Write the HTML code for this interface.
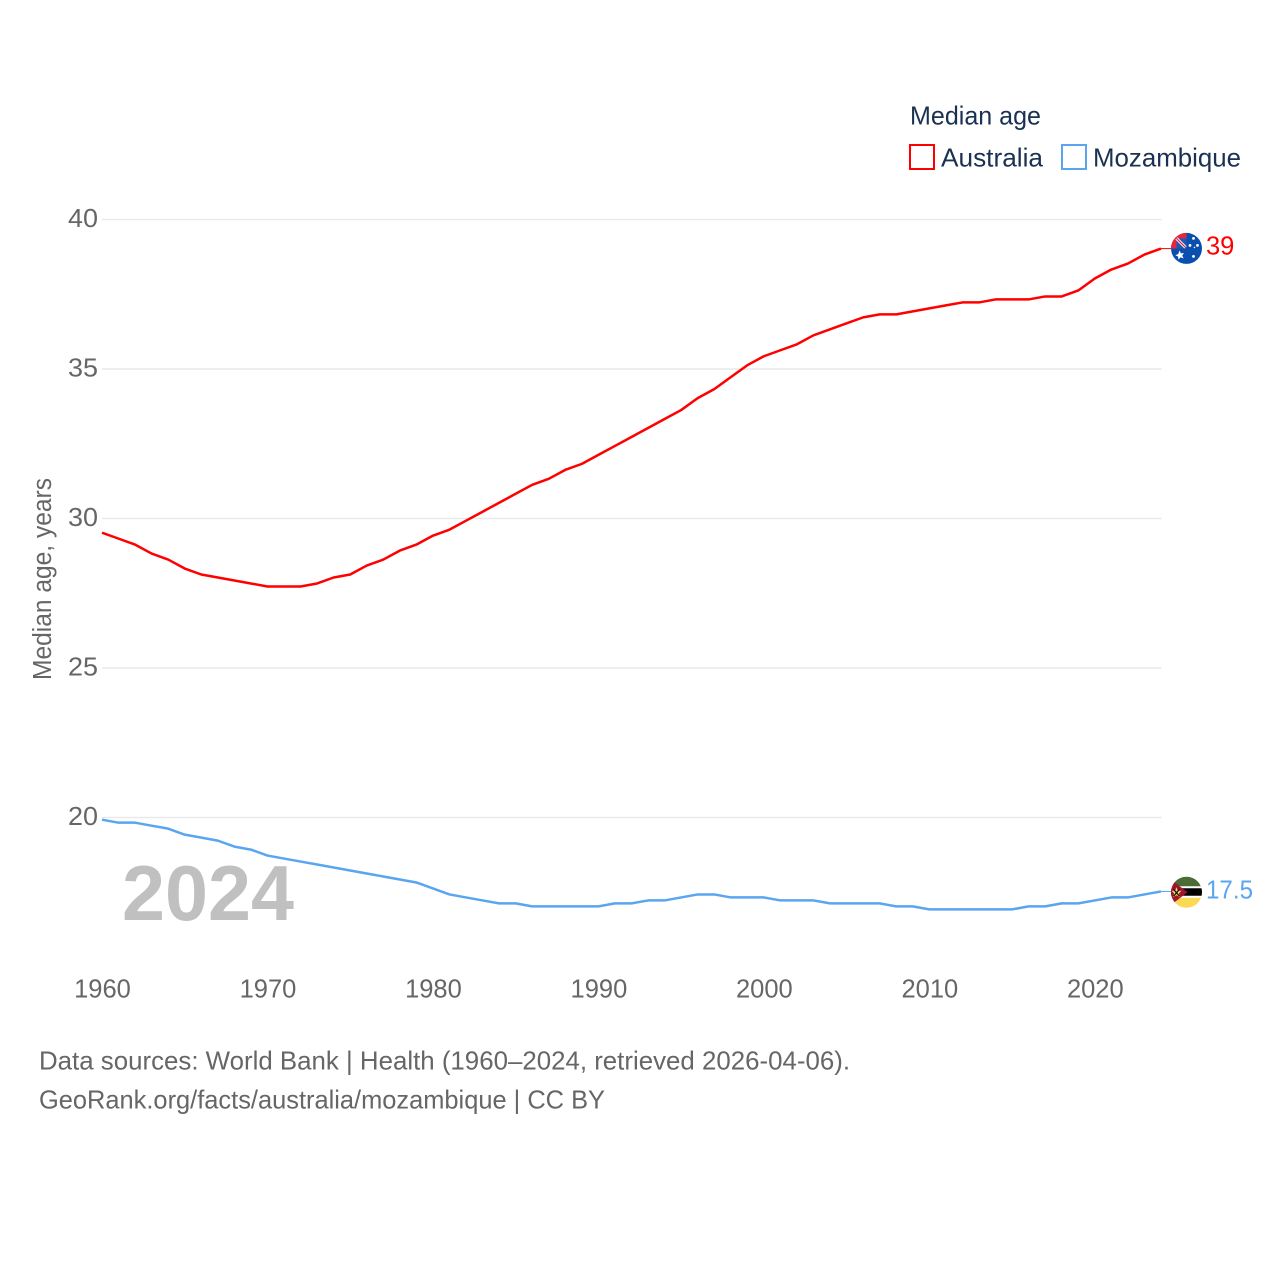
<!DOCTYPE html>
<html lang="en">
<head>
<meta charset="utf-8">
<title>Median age: Australia and Mozambique</title>
<style>
html,body{margin:0;padding:0;background:#fff;}
svg{display:block;font-family:"Liberation Sans",sans-serif;}
.tick{font-size:25.5px;fill:#666;}
.legend{font-size:26px;fill:#1a3152;}
.foot{font-size:26px;fill:#666;}
</style>
</head>
<body>
<svg id="chart" xmlns="http://www.w3.org/2000/svg" width="1280" height="1280" viewBox="0 0 1280 1280">
  <defs>
    <clipPath id="flag-clip"><circle cx="0" cy="0" r="15.5"></circle></clipPath>
  </defs>
  <rect width="1280" height="1280" fill="#fff"></rect>
  <g id="grid"></g>
  <g id="yticks"></g>
  <g id="xticks"></g>
  <text class="tick" font-size="25" transform="translate(51,680) rotate(-90)" textLength="202" lengthAdjust="spacingAndGlyphs">Median age, years</text>
  <text x="122" y="920" font-size="78" font-weight="700" fill="#c0c0c0" textLength="172" lengthAdjust="spacingAndGlyphs">2024</text>
  <g id="series"></g>

  <g id="flag-au">
    <g clip-path="url(#flag-clip)">
      <rect x="-16" y="-16" width="32" height="32" fill="#0a4fae"></rect>
      <rect x="-16" y="-16" width="16" height="16" fill="#e8243f"></rect>
      <rect x="-10" y="-10" width="10" height="10" fill="#1d5ab0"></rect>
      <path d="M-10 -10L-1 -1" stroke="#fff" stroke-width="3"></path>
      <path d="M-10 -10L-1 -1" stroke="#e8243f" stroke-width="1.2"></path>
      <polygon points="-7,2 -5.6,5 -2.5,4.6 -4.3,7.2 -2.8,10 -6,9 -8.2,11.2 -8.3,8.2 -11.2,6.8 -8.2,5.6" fill="#fff"></polygon>
      <circle cx="7" cy="-10" r="1.4" fill="#fff"></circle>
      <circle cx="3.5" cy="-3" r="1.4" fill="#fff"></circle>
      <circle cx="11" cy="-3" r="1.4" fill="#fff"></circle>
      <circle cx="7" cy="8" r="1.4" fill="#fff"></circle>
      <circle cx="8" cy="-1" r="0.8" fill="#fff"></circle>
    </g>
  </g>

  <g id="flag-mz">
    <g clip-path="url(#flag-clip)">
      <rect x="-16" y="-16" width="32" height="32" fill="#fff"></rect>
      <rect x="-16" y="-16" width="32" height="10" fill="#4b6c34"></rect>
      <rect x="-16" y="-4" width="32" height="7.5" fill="#000"></rect>
      <rect x="-16" y="5.5" width="32" height="11" fill="#fcd955"></rect>
      <polygon points="-16,-13 1,0 -16,13" fill="#a3122f"></polygon>
      <polygon points="-10,-5 -8.5,-1.5 -5,-1.5 -7.5,1 -6.5,5 -10,3 -13.5,5 -12.5,1 -15,-1.5 -11.5,-1.5" fill="#f4d85c"></polygon>
      <path d="M-13 -3L-7 4M-7 -3L-13 4" stroke="#111" stroke-width="1.3"></path>
    </g>
  </g>

  <g id="value-labels"></g>

  <g>
    <text class="legend" x="910" y="124.5" textLength="131" lengthAdjust="spacingAndGlyphs">Median age</text>
    <g>
      <rect x="910" y="145" width="24" height="24" fill="#fff" stroke="#ff0000" stroke-width="2"></rect>
      <text class="legend" x="941" y="166.5" textLength="102" lengthAdjust="spacingAndGlyphs">Australia</text>
    </g>
    <g>
      <rect x="1062" y="145" width="24" height="24" fill="#fff" stroke="#5aa5f0" stroke-width="2"></rect>
      <text class="legend" x="1093" y="166.5" textLength="148" lengthAdjust="spacingAndGlyphs">Mozambique</text>
    </g>
  </g>

  <g>
    <text class="foot" x="39" y="1069.5" textLength="811" lengthAdjust="spacingAndGlyphs">Data sources: World Bank | Health (1960–2024, retrieved 2026-04-06).</text>
    <text class="foot" x="39" y="1108.5" textLength="566" lengthAdjust="spacingAndGlyphs">GeoRank.org/facts/australia/mozambique | CC BY</text>
  </g>
</svg>
<script>
const startYear = 1960;
const australiaValues = [29.5,29.3,29.1,28.8,28.6,28.3,28.1,28.0,27.9,27.8,27.7,27.7,27.7,27.8,28.0,28.1,28.4,28.6,28.9,29.1,29.4,29.6,29.9,30.2,30.5,30.8,31.1,31.3,31.6,31.8,32.1,32.4,32.7,33.0,33.3,33.6,34.0,34.3,34.7,35.1,35.4,35.6,35.8,36.1,36.3,36.5,36.7,36.8,36.8,36.9,37.0,37.1,37.2,37.2,37.3,37.3,37.3,37.4,37.4,37.6,38.0,38.3,38.5,38.8,39.0];
const mozambiqueValues = [19.9,19.8,19.8,19.7,19.6,19.4,19.3,19.2,19.0,18.9,18.7,18.6,18.5,18.4,18.3,18.2,18.1,18.0,17.9,17.8,17.6,17.4,17.3,17.2,17.1,17.1,17.0,17.0,17.0,17.0,17.0,17.1,17.1,17.2,17.2,17.3,17.4,17.4,17.3,17.3,17.3,17.2,17.2,17.2,17.1,17.1,17.1,17.1,17.0,17.0,16.9,16.9,16.9,16.9,16.9,16.9,17.0,17.0,17.1,17.1,17.2,17.3,17.3,17.4,17.5];
const yTickValues = [40,35,30,25,20];
const xTickValues = [1960,1970,1980,1990,2000,2010,2020];
const australiaLabel = "39";
const mozambiqueLabel = "17.5";

const NS = "http://www.w3.org/2000/svg";
function xScale(year){ return 102 + (year - 1960) * (1059 / 64); }
function yScale(v){ return 219.5 + (40 - v) * (598 / 20); }
function lineY(v){ return yScale(v) - 0.8; }
function make(tag, parentId){
  const el = document.createElementNS(NS, tag);
  document.getElementById(parentId).appendChild(el);
  return el;
}

yTickValues.forEach(function(v){
  const line = make("line", "grid");
  
  
  line.setAttribute("x1", 102);
  line.setAttribute("x2", 1161.5);
  line.setAttribute("y1", yScale(v));
  line.setAttribute("y2", yScale(v));
  line.setAttribute("stroke", "#e9e9e9");
  line.setAttribute("stroke-width", "1.5");
  const label = make("text", "yticks");
  
  
  label.setAttribute("class", "tick");
  label.setAttribute("x", 98);
  label.setAttribute("y", yScale(v) + 7.5);
  label.setAttribute("text-anchor", "end");
  label.setAttribute("textLength", "30");
  label.setAttribute("lengthAdjust", "spacingAndGlyphs");
  label.textContent = v;
});

xTickValues.forEach(function(year){
  const label = make("text", "xticks");
  
  
  label.setAttribute("class", "tick");
  label.setAttribute("x", xScale(year) + 0.5);
  label.setAttribute("y", 997.5);
  label.setAttribute("text-anchor", "middle");
  label.textContent = year;
});

function pathFor(values){
  return values.map(function(v, i){
    return (i ? "L" : "M") + xScale(startYear + i).toFixed(2) + " " + lineY(v).toFixed(2);
  }).join("");
}
function lastYear(values){ return startYear + values.length - 1; }
function lastValue(values){ return values[values.length - 1]; }

const auLine = make("path", "series");


auLine.setAttribute("d", pathFor(australiaValues));
auLine.setAttribute("fill", "none");
auLine.setAttribute("stroke", "#ff0000");
auLine.setAttribute("stroke-width", "2.5");
auLine.setAttribute("stroke-linejoin", "round");

const mzLine = make("path", "series");


mzLine.setAttribute("d", pathFor(mozambiqueValues));
mzLine.setAttribute("fill", "none");
mzLine.setAttribute("stroke", "#5aa5f0");
mzLine.setAttribute("stroke-width", "2.5");
mzLine.setAttribute("stroke-linejoin", "round");

const auConnector = make("line", "series");


auConnector.setAttribute("x1", xScale(lastYear(australiaValues)));
auConnector.setAttribute("x2", xScale(lastYear(australiaValues)) + 10);
auConnector.setAttribute("y1", lineY(lastValue(australiaValues)));
auConnector.setAttribute("y2", lineY(lastValue(australiaValues)));
auConnector.setAttribute("stroke", "#ff0000");
auConnector.setAttribute("stroke-width", "1");

const mzConnector = make("line", "series");


mzConnector.setAttribute("x1", xScale(lastYear(mozambiqueValues)));
mzConnector.setAttribute("x2", xScale(lastYear(mozambiqueValues)) + 10);
mzConnector.setAttribute("y1", lineY(lastValue(mozambiqueValues)));
mzConnector.setAttribute("y2", lineY(lastValue(mozambiqueValues)));
mzConnector.setAttribute("stroke", "#5aa5f0");
mzConnector.setAttribute("stroke-width", "1");

document.getElementById("flag-au").setAttribute("transform",
  "translate(" + (xScale(lastYear(australiaValues)) + 25.5) + "," + (yScale(lastValue(australiaValues)) - 1) + ")");
document.getElementById("flag-mz").setAttribute("transform",
  "translate(" + (xScale(lastYear(mozambiqueValues)) + 25.5) + "," + yScale(lastValue(mozambiqueValues)) + ")");

const auValue = make("text", "value-labels");


auValue.setAttribute("x", 1206);
auValue.setAttribute("y", yScale(lastValue(australiaValues)) + 5);
auValue.setAttribute("font-size", "25.5");
auValue.setAttribute("fill", "#ff0000");
auValue.textContent = australiaLabel;

const mzValue = make("text", "value-labels");


mzValue.setAttribute("x", 1206);
mzValue.setAttribute("y", yScale(lastValue(mozambiqueValues)) + 6);
mzValue.setAttribute("font-size", "25.5");
mzValue.setAttribute("fill", "#5aa5f0");
mzValue.setAttribute("textLength", "47");
mzValue.setAttribute("lengthAdjust", "spacingAndGlyphs");
mzValue.textContent = mozambiqueLabel;
</script>
</body>
</html>
